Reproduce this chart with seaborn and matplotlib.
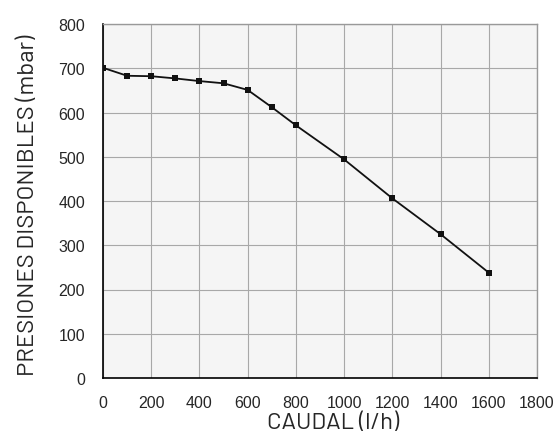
import matplotlib
matplotlib.use("Agg")
import matplotlib.pyplot as plt
import seaborn as sns
import pandas as pd

caudal = [0, 100, 200, 300, 400, 500, 600, 700, 800, 1000, 1200, 1400, 1600]
presion = [701, 683, 682, 677, 671, 666, 651, 612, 571, 494, 406, 325, 238]
x_ticks = [0, 200, 400, 600, 800, 1000, 1200, 1400, 1600, 1800]
y_ticks = [0, 100, 200, 300, 400, 500, 600, 700, 800]

sns.set_style("white")
plt.rcParams['font.family'] = ['Liberation Sans', 'DejaVu Sans']

df = pd.DataFrame({"caudal": caudal, "presion": presion})

fig = plt.figure(figsize=(5.57, 4.39), dpi=100)
ax = fig.add_axes([103/557, 1-379/439, 434/557, 354/439])
ax.set_facecolor("#f5f5f5")

sns.lineplot(data=df, x="caudal", y="presion", ax=ax, color="#111111",
             linewidth=1.3, marker="s", markersize=5, markeredgewidth=0,
             zorder=3)

ax.set_xlim(0, 1800)
ax.set_ylim(0, 800)
ax.set_xticks(x_ticks)
ax.set_yticks(y_ticks)
ax.grid(True, color="#a8a8a8", linewidth=0.8, zorder=0)
ax.set_axisbelow(True)

for s in ["top", "right"]:
    ax.spines[s].set_color("#999999")
    ax.spines[s].set_linewidth(1.0)
for s in ["left", "bottom"]:
    ax.spines[s].set_color("black")
    ax.spines[s].set_linewidth(1.2)

ax.tick_params(axis="both", labelsize=11.5, length=3, color="#999999")
ax.tick_params(axis="x", pad=9)
ax.tick_params(axis="y", length=0, pad=13)

label_font = ['Barlow', 'Liberation Sans', 'DejaVu Sans']
ax.set_xlabel("CAUDAL (l/h)", fontsize=17.2, family=label_font, weight=400, labelpad=2)
ax.set_ylabel("PRESIONES DISPONIBLES (mbar)", fontsize=17.2, family=label_font, weight=400, labelpad=14)
ax.xaxis.label.set_x(0.531)
ax.yaxis.label.set_y(0.4915)

fig.savefig("out.png", dpi=100)
